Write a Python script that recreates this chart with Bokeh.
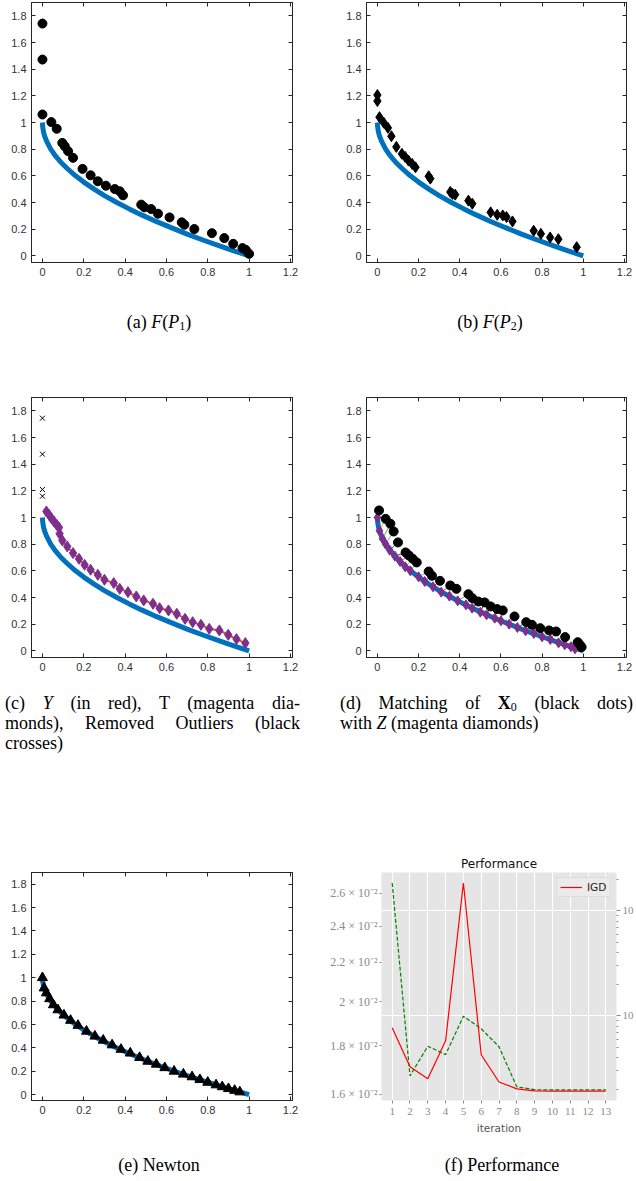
from bokeh.plotting import figure
from bokeh.models import (Range1d, LinearAxis, LogAxis, FixedTicker, CustomJSTickFormatter,
                          Div, LogScale)
from bokeh.layouts import row, column
from bokeh.embed import file_html
from bokeh.resources import INLINE

# ---------------- data ----------------
x_ticks = [0, 0.2, 0.4, 0.6, 0.8, 1, 1.2]
y_ticks = [0, 0.2, 0.4, 0.6, 0.8, 1, 1.2, 1.4, 1.6, 1.8]

# true Pareto front (blue curve)
front_x = [0.0, 0.001, 0.005, 0.01, 0.02, 0.04, 0.06, 0.09, 0.12, 0.16, 0.2, 0.25, 0.3, 0.36,
           0.42, 0.48, 0.55, 0.62, 0.7, 0.78, 0.86, 0.93, 1.0]
front_y = [1.0, 0.97, 0.93, 0.90, 0.86, 0.80, 0.755, 0.70, 0.655, 0.60, 0.553, 0.50, 0.452, 0.40,
           0.352, 0.307, 0.258, 0.213, 0.163, 0.117, 0.073, 0.036, 0.0]

# (a) F(P1)
p1_x = [0.0, 0.0, 0.0, 0.043, 0.069, 0.096, 0.108, 0.124, 0.148, 0.194, 0.233, 0.268, 0.307, 0.350,
        0.374, 0.390, 0.478, 0.493, 0.526, 0.559, 0.615, 0.674, 0.687, 0.735, 0.820, 0.880, 0.923,
        0.968, 0.984, 1.0]
p1_y = [1.742, 1.472, 1.060, 1.003, 0.953, 0.847, 0.822, 0.785, 0.735, 0.652, 0.604, 0.559, 0.526,
        0.501, 0.484, 0.454, 0.384, 0.364, 0.351, 0.316, 0.288, 0.251, 0.233, 0.201, 0.170, 0.133,
        0.090, 0.058, 0.045, 0.015]

# (b) F(P2)
p2_x = [0.0, 0.0, 0.010, 0.031, 0.051, 0.068, 0.092, 0.119, 0.135, 0.151, 0.169, 0.185, 0.249, 0.257,
        0.354, 0.365, 0.378, 0.442, 0.461, 0.550, 0.582, 0.609, 0.627, 0.656, 0.759, 0.794, 0.839,
        0.879, 0.968]
p2_y = [1.206, 1.161, 1.040, 0.998, 0.960, 0.897, 0.817, 0.765, 0.742, 0.714, 0.689, 0.664, 0.597,
        0.579, 0.479, 0.464, 0.459, 0.414, 0.391, 0.326, 0.308, 0.303, 0.291, 0.258, 0.188, 0.165,
        0.138, 0.125, 0.065]

# (c) removed outliers, T / Y
outlier_x = [0.0, 0.0, 0.0, 0.0]
outlier_y = [1.745, 1.475, 1.21, 1.16]
t_x = [0.019, 0.032, 0.043, 0.056, 0.069, 0.080, 0.083, 0.096, 0.120, 0.148, 0.177, 0.204, 0.233,
       0.268, 0.300, 0.345, 0.374, 0.414, 0.454, 0.490, 0.535, 0.567, 0.610, 0.650, 0.690, 0.727,
       0.767, 0.807, 0.856, 0.899, 0.939, 0.982]
t_y = [1.045, 1.020, 0.995, 0.970, 0.945, 0.925, 0.878, 0.828, 0.783, 0.733, 0.690, 0.645, 0.608,
       0.570, 0.533, 0.508, 0.465, 0.440, 0.408, 0.378, 0.353, 0.320, 0.303, 0.278, 0.240, 0.215,
       0.195, 0.165, 0.153, 0.120, 0.088, 0.058]

# (d) X0 (black dots) matched with Z (magenta diamonds)
x0_x = [0.008, 0.040, 0.063, 0.079, 0.100, 0.137, 0.153, 0.172, 0.191, 0.249, 0.265, 0.304, 0.354,
        0.384, 0.442, 0.461, 0.490, 0.521, 0.550, 0.582, 0.609, 0.666, 0.723, 0.751, 0.791, 0.834,
        0.868, 0.912, 0.973, 0.984, 0.992]
x0_y = [1.053, 0.990, 0.953, 0.895, 0.813, 0.738, 0.715, 0.690, 0.663, 0.595, 0.563, 0.525, 0.490,
        0.465, 0.425, 0.395, 0.370, 0.363, 0.333, 0.313, 0.303, 0.258, 0.215, 0.195, 0.170, 0.153,
        0.145, 0.103, 0.065, 0.045, 0.028]
z_x = [0.0, 0.010, 0.025, 0.040, 0.060, 0.085, 0.110, 0.135, 0.160, 0.200, 0.230, 0.270, 0.310,
       0.350, 0.390, 0.430, 0.460, 0.500, 0.530, 0.570, 0.600, 0.640, 0.680, 0.720, 0.760, 0.800,
       0.840, 0.880, 0.910, 0.940, 0.960]
z_y = [1.0, 0.90, 0.84, 0.80, 0.755, 0.71, 0.67, 0.63, 0.60, 0.555, 0.52, 0.48, 0.44, 0.41, 0.375,
       0.345, 0.32, 0.29, 0.27, 0.245, 0.225, 0.20, 0.175, 0.15, 0.13, 0.105, 0.085, 0.06, 0.045,
       0.03, 0.015]

# (e) Newton
newton_x = [0.0, 0.008, 0.019, 0.035, 0.053, 0.075, 0.104, 0.136, 0.172, 0.213, 0.254, 0.294, 0.337,
            0.380, 0.425, 0.470, 0.510, 0.551, 0.592, 0.637, 0.682, 0.724, 0.762, 0.80, 0.84, 0.87,
            0.90, 0.93, 0.955]
newton_y = [1.0, 0.912, 0.87, 0.82, 0.768, 0.725, 0.68, 0.635, 0.592, 0.542, 0.50, 0.465, 0.425,
            0.387, 0.355, 0.317, 0.285, 0.26, 0.23, 0.20, 0.175, 0.152, 0.128, 0.105, 0.083, 0.067,
            0.051, 0.036, 0.023]

# (f) Performance
iterations = [1, 2, 3, 4, 5, 6, 7, 8, 9, 10, 11, 12, 13]
igd = [0.01879, 0.01711, 0.01662, 0.01821, 0.02665, 0.01761, 0.01649, 0.01622, 0.01614, 0.01613,
       0.01613, 0.01613, 0.01613]
second_metric = [1.839, 0.0269, 0.0516, 0.0429, 0.0993, 0.0756, 0.0510, 0.0212, 0.0199, 0.0198,
                 0.0198, 0.0198, 0.0198]
igd_ticks = [0.016, 0.018, 0.020, 0.022, 0.024, 0.026]
igd_tick_labels = ["1.6 × 10⁻²", "1.8 × 10⁻²", "2 × 10⁻²", "2.2 × 10⁻²", "2.4 × 10⁻²", "2.6 × 10⁻²"]
right_ticks = [0.1, 1]
right_tick_labels = ["10", "10"]
right_minor_ticks = [0.02, 0.03, 0.04, 0.05, 0.06, 0.07, 0.08, 0.09,
                     0.2, 0.3, 0.4, 0.5, 0.6, 0.7, 0.8, 0.9, 2]

cap_a = '(a) <i>F</i>(<i>P</i><sub>1</sub>)'
cap_b = '(b) <i>F</i>(<i>P</i><sub>2</sub>)'
cap_c_lines = ['(c) <i>Y</i> (in red), T (magenta dia-', 'monds), Removed Outliers (black', 'crosses)']
cap_d_lines = ['(d) Matching of <b>X</b><sub>0</sub> (black dots)', 'with <i>Z</i> (magenta diamonds)']
cap_e = '(e) Newton'
cap_f = '(f) Performance'

# ---------------- styles ----------------
AX = "#262626"
LBL = "#333333"
MBLUE = "#0072BD"
MRED = "#D95319"
MPURPLE = "#7E2F8E"
MATCH_COLORS = ["#D95319", "#EDB120", "#77AC30", "#4DBEEE", "#0072BD", "#A2142F"]

LOOKUP_JS = """
let best = 0;
for (let i = 0; i < tv.length; i++) {
  if (Math.abs(Math.log(tv[i]) - Math.log(tick)) < Math.abs(Math.log(tv[best]) - Math.log(tick))) best = i;
}
return labels[best];
"""


def mat_axis(ticks, hidden=False):
    if hidden:
        ax = LinearAxis(ticker=FixedTicker(ticks=[], minor_ticks=ticks))
        ax.minor_tick_in = 4
        ax.minor_tick_out = 0
        ax.major_tick_in = 0
        ax.major_tick_out = 0
        ax.major_label_standoff = 0
    else:
        ax = LinearAxis(ticker=FixedTicker(ticks=ticks, minor_ticks=[]),
                        formatter=CustomJSTickFormatter(code="return (Math.round(tick*10)/10).toString();"))
        ax.major_tick_in = 4
        ax.major_tick_out = 0
        ax.minor_tick_in = 0
        ax.minor_tick_out = 0
        ax.major_label_standoff = 5
        ax.major_label_text_font = "Liberation Sans"
        ax.major_label_text_font_size = "11px"
        ax.major_label_text_color = LBL
    ax.axis_line_color = AX
    ax.major_tick_line_color = AX
    ax.minor_tick_line_color = AX
    return ax


def mat_panel(height, bl, br, bt, bb):
    p = figure(width=318, height=height, x_range=Range1d(-0.053, 1.21), y_range=Range1d(-0.05, 1.9),
               x_axis_type=None, y_axis_type=None, output_backend="svg", toolbar_location=None,
               min_border_left=bl, min_border_right=br, min_border_top=bt, min_border_bottom=bb)
    p.outline_line_color = AX
    p.border_fill_color = "white"
    p.background_fill_color = "white"
    p.add_layout(mat_axis(x_ticks), "below")
    p.add_layout(mat_axis(y_ticks), "left")
    p.add_layout(mat_axis(x_ticks, True), "above")
    p.add_layout(mat_axis(y_ticks, True), "right")
    return p


def front(p):
    p.line(front_x, front_y, line_color=MBLUE, line_width=5)


# (a)
pa = mat_panel(282, 31, 26, 2, 20)
front(pa)
pa.scatter(p1_x, p1_y, marker="circle", size=9, fill_color="black", line_color="black")

# (b)
pb = mat_panel(282, 48, 10, 2, 20)
front(pb)
pb.scatter(p2_x, p2_y, marker="diamond", size=11, fill_color="black", line_color="black")

# (c)
pc = mat_panel(285, 31, 26, 5, 20)
front(pc)
pc.scatter(outlier_x, outlier_y, marker="x", size=7, line_color="black", line_width=1)
pc.line(t_x, t_y, line_color=MRED, line_width=2)
pc.scatter(t_x, t_y, marker="diamond", size=11, fill_color=MPURPLE, line_color=MPURPLE)

# (d)
pd_ = mat_panel(285, 48, 10, 5, 20)
front(pd_)
seg_colors = [MATCH_COLORS[i % len(MATCH_COLORS)] for i in range(len(x0_x))]
pd_.segment(x0=x0_x, y0=x0_y, x1=z_x, y1=z_y, line_color=seg_colors, line_width=1)
pd_.scatter(z_x, z_y, marker="diamond", size=10, fill_color=MPURPLE, line_color=MPURPLE)
pd_.scatter(x0_x, x0_y, marker="circle", size=9, fill_color="black", line_color="black")

# (e)
pe = mat_panel(300, 31, 26, 4, 38)
front(pe)
pe.scatter(newton_x, newton_y, marker="triangle", size=10, fill_color="black", line_color="black")

# (f) Performance
GRAYTXT = "#8a8a8a"
pf = figure(width=318, height=300, x_range=Range1d(0.4, 13.6), y_range=Range1d(0.01571, 2.314),
            y_axis_type="log", y_axis_location="right", output_backend="svg", toolbar_location=None,
            min_border_left=63, min_border_right=18, min_border_top=34, min_border_bottom=34,
            title="Performance")
pf.extra_y_ranges = {"igd": Range1d(0.01577, 0.02733)}
pf.extra_y_scales = {"igd": LogScale()}
pf.background_fill_color = "#E5E5E5"
pf.border_fill_color = "white"
pf.outline_line_color = None
pf.title.align = "center"
pf.title.text_font = "DejaVu Sans"
pf.title.text_font_size = "12px"
pf.title.text_font_style = "normal"
pf.title.text_color = "#111111"
pf.title.standoff = 3

xa = pf.xaxis[0]
xa.ticker = FixedTicker(ticks=iterations, minor_ticks=[])
xa.axis_line_color = None
xa.major_tick_in = 0
xa.major_tick_out = 3
xa.major_tick_line_color = GRAYTXT
xa.major_label_standoff = 4
xa.major_label_text_font = "Liberation Serif"
xa.major_label_text_font_size = "11px"
xa.major_label_text_color = GRAYTXT
xa.axis_label = "iteration"
xa.axis_label_text_font = "DejaVu Sans"
xa.axis_label_text_font_size = "10.5px"
xa.axis_label_text_font_style = "normal"
xa.axis_label_text_color = "#555555"
xa.axis_label_standoff = 4

ya = pf.yaxis[0]
ya.ticker = FixedTicker(ticks=right_ticks, minor_ticks=right_minor_ticks)
ya.formatter = CustomJSTickFormatter(args=dict(tv=right_ticks, labels=right_tick_labels), code=LOOKUP_JS)
ya.axis_line_color = None
ya.major_tick_in = 0
ya.major_tick_out = 4
ya.minor_tick_in = 0
ya.minor_tick_out = 2
ya.major_tick_line_color = GRAYTXT
ya.minor_tick_line_color = GRAYTXT
ya.major_label_standoff = 2
ya.major_label_text_font = "Liberation Serif"
ya.major_label_text_font_size = "11px"
ya.major_label_text_color = GRAYTXT

la = LogAxis(y_range_name="igd", ticker=FixedTicker(ticks=igd_ticks, minor_ticks=[]),
             formatter=CustomJSTickFormatter(args=dict(tv=igd_ticks, labels=igd_tick_labels), code=LOOKUP_JS))
la.axis_line_color = None
la.major_tick_in = 0
la.major_tick_out = 2
la.major_tick_line_color = GRAYTXT
la.major_label_standoff = 2
la.major_label_text_font = "Liberation Serif"
la.major_label_text_font_size = "12px"
la.major_label_text_color = GRAYTXT
pf.add_layout(la, "left")

pf.xgrid.grid_line_color = "white"
pf.xgrid.grid_line_width = 1
pf.ygrid.grid_line_color = "white"
pf.ygrid.grid_line_width = 1

pf.line(iterations, second_metric, line_color="green", line_dash="4 2", line_width=1.2)
pf.line(iterations, igd, y_range_name="igd", line_color="red", line_width=1.2, legend_label="IGD")
pf.legend.location = "top_right"
pf.legend.label_text_font = "DejaVu Sans"
pf.legend.label_text_font_size = "10.5px"
pf.legend.label_text_color = "#222222"
pf.legend.background_fill_color = "#EBEBEB"
pf.legend.background_fill_alpha = 1.0
pf.legend.border_line_color = "#D0D0D0"
pf.legend.glyph_width = 22
pf.legend.glyph_height = 10
pf.legend.label_height = 10
pf.legend.padding = 3
pf.legend.margin = 5
pf.legend.spacing = 0

# ---------------- captions ----------------
FONT = "font-family:'Liberation Serif','Times New Roman',serif;font-size:18px;line-height:22px;color:#000;"
SUB = '<span style="font-size:12px;line-height:12px;position:relative;top:2px;">'


def fix_sub(s):
    return s.replace("<sub>", SUB).replace("</sub>", "</span>")


def cap_div(html, width, height, pad_top, pad_left=0):
    inner = (f'<div style="{FONT}width:{width}px;box-sizing:border-box;padding-top:{pad_top}px;'
             f'padding-left:{pad_left}px;text-align:center;white-space:nowrap;">{fix_sub(html)}</div>')
    return Div(text=inner, width=width, height=height, margin=0, styles={"overflow": "hidden"})


def multi_div(lines, width, height, pad_top, pad_left, line_width, line_height):
    parts = []
    for i, ln in enumerate(lines):
        last = "left" if i == len(lines) - 1 else "justify"
        parts.append(f'<div style="width:{line_width}px;height:{line_height}px;line-height:{line_height}px;'
                     f'text-align:justify;text-align-last:{last};white-space:nowrap;">{fix_sub(ln)}</div>')
    inner = (f'<div style="{FONT}width:{width}px;box-sizing:border-box;padding-top:{pad_top}px;'
             f'padding-left:{pad_left}px;overflow:hidden;">' + "".join(parts) + '</div>')
    return Div(text=inner, width=width, height=height, margin=0, styles={"overflow": "hidden"})


c_a = cap_div(cap_a, 318, 110, 29, 0)
c_b = cap_div(cap_b, 318, 110, 29, 26)
c_c = multi_div(cap_c_lines, 318, 161, 16, 5, 295, 20)
c_d = multi_div(cap_d_lines, 318, 161, 16, 22, 293, 20)
c_e = cap_div(cap_e, 318, 42, 16, 0)
c_f = cap_div(cap_f, 318, 42, 16, 50)

layout = column(
    row(pa, pb, spacing=0),
    row(c_a, c_b, spacing=0),
    row(pc, pd_, spacing=0),
    row(c_c, c_d, spacing=0),
    row(pe, pf, spacing=0),
    row(c_e, c_f, spacing=0),
    spacing=0,
)

open("out.html", "w").write(file_html(layout, INLINE))
